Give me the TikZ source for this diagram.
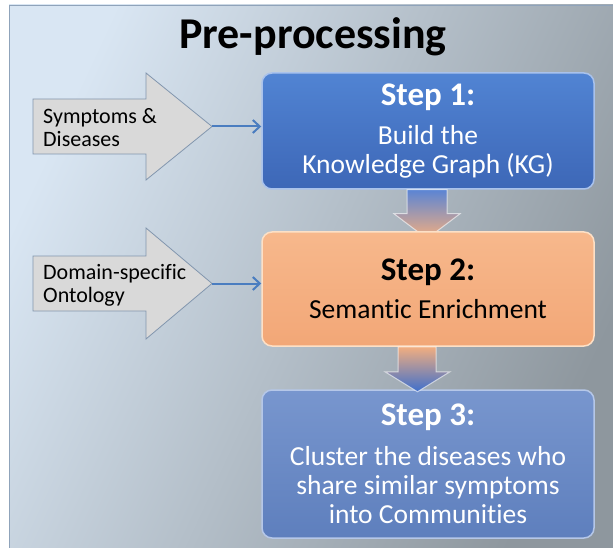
\documentclass[tikz,border=0pt]{standalone}
\usepackage{fontspec}
\setmainfont{Carlito}[Ligatures=CommonOff]
\usetikzlibrary{arrows.meta,calc}
\definecolor{bgA}{HTML}{D9E6F3}
\definecolor{bgB}{HTML}{8E979E}
\definecolor{panelline}{HTML}{8FA3BA}
\definecolor{grayfill}{HTML}{D9D9D9}
\definecolor{grayline}{HTML}{8296AE}
\definecolor{connblue}{HTML}{4A7DC0}
\definecolor{sOneTop}{HTML}{5184D3}
\definecolor{sOneBot}{HTML}{3D67B7}
\definecolor{sOneEdge}{HTML}{A9C2EC}
\definecolor{sTwoTop}{HTML}{F7B88C}
\definecolor{sTwoBot}{HTML}{F2A777}
\definecolor{sTwoEdge}{HTML}{FDE0C6}
\definecolor{sThrTop}{HTML}{7896CE}
\definecolor{sThrBot}{HTML}{5E7FBD}
\definecolor{sThrEdge}{HTML}{B5C7E8}
\definecolor{arrBlue}{HTML}{3E6FCC}
\definecolor{arrOrange}{HTML}{F2AE80}
\begin{document}
\begin{tikzpicture}[x=1pt,y=-1pt,
  stepbox/.style={rounded corners=10pt, minimum width=332pt, align=center,
    inner sep=0pt, line width=1.5pt, font=\fontsize{27.5}{29}\selectfont},
  sidearrow/.style={fill=grayfill, draw=grayline, line width=0.8pt, line join=miter},
  sidetext/.style={anchor=west, align=left, inner sep=0pt,
    font=\fontsize{22}{23}\selectfont},
  conn/.style={draw=connblue, line width=2pt, -{Straight Barb[length=7pt,width=13pt,line width=2pt]}},
  downarrow/.style={draw=white, draw opacity=0.6, line width=1pt}
]
\useasboundingbox (0,0) rectangle (613,548);
\fill[white] (0,0) rectangle (613,548);
\shade[top color=bgA, bottom color=bgB, shading angle=65] (9,5) rectangle (613,548);
\draw[panelline, line width=1.5pt] (613,5.5) -- (9.5,5.5) -- (9.5,548);

\node[inner sep=0pt] (title) at (313,37) {\fontsize{44}{44}\selectfont\bfseries Pre-processing};

% side arrows
\draw[sidearrow] (33,99) -- (146,99) -- (146,73) -- (212,126.5) -- (146,180) -- (146,154) -- (33,154) -- cycle;
\coordinate (t1) at (212,126.5);
\node[sidetext] (in1) at (43,128) {Symptoms \&\\Diseases};

\draw[sidearrow] (33,256) -- (146,256) -- (146,228) -- (212,283.5) -- (146,339) -- (146,311) -- (33,311) -- cycle;
\coordinate (t2) at (212,283.5);
\node[sidetext] (in2) at (43,285) {Domain-specific\\Ontology};

% step 1
\node[stepbox, minimum height=116pt, top color=sOneTop, bottom color=sOneBot, draw=sOneEdge, text=white]
  (s1) at (428,131) {{\fontsize{33}{29}\selectfont\bfseries Step 1:}\\[10pt]Build the\\Knowledge Graph (KG)};

% down arrow A
\shade[downarrow, top color=arrBlue!85!white, bottom color=arrOrange]
  ($(s1.south)+(-21,0)$) -- ++(0,24) -- ++(-13,0) -- ++(33,25) -- ++(33,-25) -- ++(-13,0) -- ++(0,-24) -- cycle;

% step 2
\node[stepbox, minimum height=114pt, top color=sTwoTop, bottom color=sTwoBot, draw=sTwoEdge, text=black]
  (s2) at (428,289) {{\fontsize{33}{29}\selectfont\bfseries Step 2:}\\[9pt]Semantic Enrichment};

% step 3
\node[stepbox, minimum height=148pt, top color=sThrTop, bottom color=sThrBot, draw=sThrEdge, text=white]
  (s3) at (428,464) {{\fontsize{33}{29}\selectfont\bfseries Step 3:}\\[11pt]Cluster the diseases who\\share similar symptoms\\into Communities};

% down arrow B
\shade[downarrow, top color=arrOrange, bottom color=arrBlue]
  ($(s2.south)+(-30,0)$) -- ++(0,25) -- ++(-13,0) -- ++(32.5,20) -- ++(32.5,-20) -- ++(-14,0) -- ++(0,-25) -- cycle;

% connectors
\draw[conn] (t1) -- (t1 -| s1.west);
\draw[conn] (t2) -- (t2 -| s2.west);
\end{tikzpicture}
\end{document}
